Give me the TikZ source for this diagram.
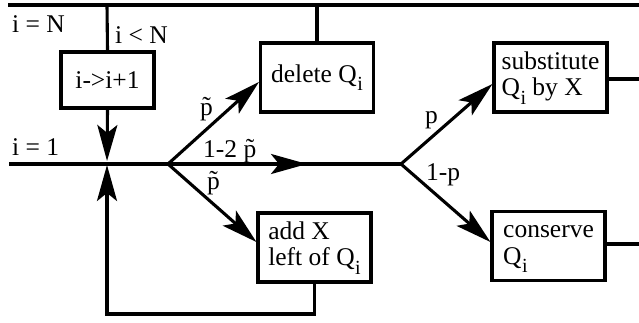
\documentclass[tikz,border=0pt]{standalone}
\usepackage{fontspec}
\setmainfont{Liberation Serif}
\usetikzlibrary{arrows.meta}
\newcommand\Qsub{Q\kern0.5pt\raisebox{-0.34em}{\fontsize{20}{20}\selectfont i}}
\begin{document}
\begin{tikzpicture}[x=1pt,y=-1pt,
  every node/.style={font=\fontsize{25.5}{26.5}\selectfont},
  ln/.style={line width=3.1pt},
  arr/.style={line width=3.1pt,-{Stealth[length=36pt,width=20pt,inset=8pt]}},
  box/.style={draw,line width=3.1pt,minimum width=113pt,minimum height=69pt,inner sep=0pt,align=left},
  lab/.style={anchor=base west,inner sep=0pt}]
\useasboundingbox (0,0) rectangle (639,322);
% coordinates
\coordinate (tl) at (8,5);
\coordinate (tr) at (639,5);
\coordinate (topA) at (107,5);
\coordinate (topB) at (317,5);
\coordinate (ml) at (9,164);
\coordinate (m) at (107,164);
\coordinate (J1) at (168,164);
\coordinate (mid) at (307,164);
\coordinate (J2) at (401,164);
\coordinate (loopL) at (107,314);
% boxes
\node[draw,line width=3.1pt,minimum width=93pt,minimum height=56pt,inner sep=0pt,align=center] (inc) at (107.5,80) {i->i+1};
\node[box,align=center] (del) at (317,77.5) {delete \Qsub};
\node[box] (sub) at (550.5,77.5) {\strut substitute\\\Qsub{} by X\strut};
\node[box] (add) at (314.5,247.5) {\strut add X\\left of \Qsub\strut};
\node[box] (con) at (548.5,246) {\strut conserve\\\Qsub\strut\hspace*{40pt}};
\coordinate (sr) at (639,79);
\coordinate (cr) at (639,244);
% lines
\draw[ln] (tl) -- (tr);
\draw[ln] (topA) -- (inc.north);
\draw[ln] (topB) -- (del.north);
\draw[ln] (ml) -- (J2);
\draw[arr,shorten >=3pt] (inc.south) -- (m);
\draw[arr,shorten >=-2pt] (add.south) |- (loopL) -- ([yshift=-3pt]m);
\draw[arr] (J1) -- (mid);
\draw[arr] (J1) -- ([yshift=-4.5pt]del.west);
\draw[arr] (J1) -- ([yshift=5.5pt]add.west);
\draw[arr] (J2) -- ([yshift=-6.5pt]sub.west);
\draw[arr] (J2) -- ([yshift=4pt]con.west);
\draw[ln] (sub.east |- sr) -- (sr);
\draw[ln] (con.east |- cr) -- (cr);
% labels
\node[lab] (lN) at (12,32) {i = N};
\node[lab] (lltN) at (115,43) {i < N};
\node[lab] (l1) at (12,155) {i = 1};
\node[lab] (lpu) at (200,115) {\~{p}};
\node[lab] (lp2) at (203,157) {1-2 \~{p}};
\node[lab] (lpd) at (207,189) {\~{p}};
\node[lab] (lp) at (425,123) {p};
\node[lab] (l1p) at (426,180) {1-p};
\end{tikzpicture}
\end{document}
